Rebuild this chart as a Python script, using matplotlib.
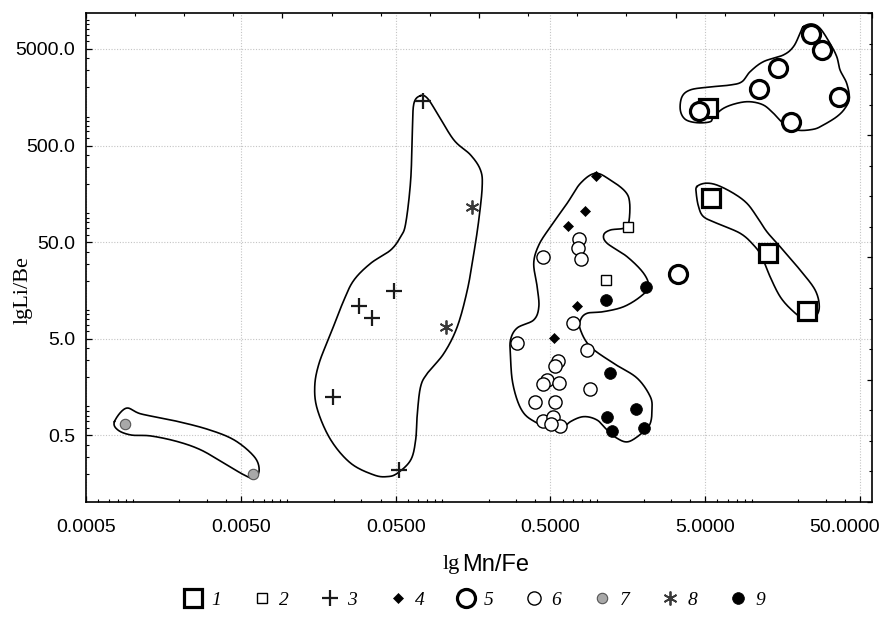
import numpy as np
import matplotlib
matplotlib.use("Agg")
import matplotlib.pyplot as plt
from matplotlib.lines import Line2D
from matplotlib.transforms import ScaledTranslation
from matplotlib.ticker import FixedLocator, LogLocator, NullFormatter, FixedFormatter, MultipleLocator

# --- point data (Mn/Fe, Li/Be) ---
g1_x = [5.25, 5.44, 12.8, 22.7]
g1_y = [1216, 144, 38.4, 9.77]
g2_x = [1.59, 1.14]
g2_y = [72.4, 20.2]
g3_x = [0.075, 0.0488, 0.029, 0.0349, 0.0197, 0.0525]
g3_y = [1448, 15.7, 10.9, 8.27, 1.26, 0.219]
g4_x = [0.986, 0.837, 0.653, 0.739, 0.528]
g4_y = [244, 104, 73, 11.0, 5.13]
g5_x = [24.1, 28.6, 14.7, 11.2, 4.55, 18.0, 36.6, 3.36]
g5_y = [7100, 4884, 3203, 1913, 1149, 871, 1581, 23.3]
g6_x = [0.769, 0.750, 0.784, 0.446, 0.704, 0.302, 0.857, 0.563, 0.536, 0.476,
        0.446, 0.572, 0.896, 0.398, 0.533, 0.449, 0.521, 0.574, 0.505]
g6_y = [54, 43.2, 33.5, 35.1, 7.24, 4.52, 3.80, 2.97, 2.61, 1.89,
        1.70, 1.76, 1.52, 1.10, 1.10, 0.710, 0.781, 0.63, 0.66]
g7_x = [0.000896, 0.00595]
g7_y = [0.656, 0.199]
g8_x = [0.155, 0.105]
g8_y = [116, 6.67]
g9_x = [2.07, 1.15, 1.21, 1.79, 1.16, 1.25, 2.00]
g9_y = [17.3, 12.6, 2.20, 0.945, 0.770, 0.559, 0.592]

# --- field outlines, in lg units ---
outA_lx = [-3.118, -3.043, -2.946, -2.731, -2.516, -2.344, -2.215, -2.183,
           -2.215, -2.280, -2.409, -2.559, -2.709, -2.882, -3.011, -3.096]
outA_ly = [-0.159, -0.020, -0.079, -0.149, -0.238, -0.349, -0.521, -0.659,
           -0.745, -0.711, -0.590, -0.452, -0.366, -0.307, -0.297, -0.245]

outB_lx = [-1.140, -1.096, -1.032, -0.925, -0.817, -0.753, -0.742, -0.764, -0.796,
           -0.838, -0.903, -0.989, -1.096, -1.140, -1.161, -1.172, -1.204, -1.290,
           -1.355, -1.441, -1.591, -1.720, -1.806, -1.824, -1.796, -1.720, -1.635,
           -1.570, -1.462, -1.333, -1.269, -1.236, -1.204, -1.193, -1.183]
outB_ly = [3.216, 3.189, 3.033, 2.757, 2.602, 2.446, 2.274, 1.929, 1.584,
           1.204, 0.824, 0.549, 0.342, 0.203, -0.072, -0.349, -0.556, -0.693,
           -0.728, -0.711, -0.590, -0.349, -0.038, 0.203, 0.445, 0.756, 1.101,
           1.308, 1.481, 1.618, 1.756, 1.895, 2.343, 2.860, 3.137]

outC_lx = [-0.011, 0.086, 0.183, 0.211, 0.204, 0.172, 0.086, 0.043, 0.065, 0.194,
           0.301, 0.333, 0.280, 0.172, 0.043, -0.064, -0.107, -0.107, -0.043, 0.107,
           0.258, 0.344, 0.355, 0.344, 0.301, 0.204, 0.129, 0.065, 0.000, -0.086,
           -0.172, -0.236, -0.314, -0.411, -0.473, -0.516, -0.548, -0.559, -0.559,
           -0.516, -0.409, -0.376, -0.387, -0.409, -0.376, -0.301, -0.193, -0.107]
outC_ly = [2.412, 2.343, 2.222, 2.102, 1.895, 1.843, 1.825, 1.774, 1.688, 1.549,
           1.377, 1.238, 1.135, 1.031, 0.980, 0.963, 0.894, 0.790, 0.617, 0.445,
           0.293, 0.100, -0.038, -0.176, -0.263, -0.366, -0.331, -0.245, -0.142, -0.107,
           -0.159, -0.245, -0.224, -0.152, -0.072, 0.065, 0.272, 0.514, 0.687,
           0.811, 0.894, 1.031, 1.238, 1.481, 1.670, 1.859, 2.102, 2.309]

outD_lx = [1.333, 1.387, 1.441, 1.505, 1.549, 1.570, 1.613, 1.630, 1.602, 1.549,
           1.462, 1.398, 1.291, 1.204, 1.140, 1.075, 0.989, 0.904, 0.817, 0.753,
           0.731, 0.645, 0.570, 0.538, 0.549, 0.602, 0.710, 0.860, 0.936, 0.989,
           1.075, 1.204, 1.269, 1.312]
outD_ly = [3.930, 3.958, 3.913, 3.758, 3.619, 3.482, 3.344, 3.189, 3.085, 2.998,
           2.912, 2.868, 2.860, 2.930, 3.033, 3.119, 3.153, 3.137, 3.085, 2.998,
           2.946, 2.936, 2.971, 3.068, 3.205, 3.275, 3.303, 3.326, 3.360, 3.464,
           3.568, 3.637, 3.723, 3.862]

outE_lx = [0.645, 0.699, 0.774, 0.882, 0.968, 1.033, 1.097, 1.183, 1.312, 1.409,
           1.436, 1.409, 1.333, 1.258, 1.183, 1.118, 1.065, 1.011, 0.925, 0.774,
           0.688, 0.656, 0.641]
outE_ly = [2.274, 2.309, 2.291, 2.205, 2.102, 1.963, 1.808, 1.652, 1.411, 1.204,
           1.031, 0.928, 0.911, 0.997, 1.135, 1.342, 1.549, 1.670, 1.791, 1.895,
           1.963, 2.066, 2.205]

x_ticks = [0.0005, 0.005, 0.05, 0.5, 5, 50]
x_ticklabels = ["0.0005", "0.0050", "0.0500", "0.5000", "5.0000", "50.0000"]
y_ticks = [0.5, 5, 50, 500, 5000]
y_ticklabels = ["0.5", "5.0", "50.0", "500.0", "5000.0"]
legend_labels = ["1", "2", "3", "4", "5", "6", "7", "8", "9"]


def smooth_closed(lx, ly, n=24):
    # closed Catmull-Rom curve through the traced points (in log space)
    p = np.column_stack([lx, ly])
    m = len(p)
    t = np.linspace(0, 1, n, endpoint=False)[:, None]
    segs = []
    for i in range(m):
        p0, p1, p2, p3 = p[i - 1], p[i], p[(i + 1) % m], p[(i + 2) % m]
        segs.append(0.5 * (2 * p1 + (-p0 + p2) * t
                           + (2 * p0 - 5 * p1 + 4 * p2 - p3) * t ** 2
                           + (-p0 + 3 * p1 - 3 * p2 + p3) * t ** 3))
    segs.append(segs[0][:1])
    c = np.vstack(segs)
    return 10 ** c[:, 0], 10 ** c[:, 1]


plt.rcParams["font.family"] = "Liberation Sans"

fig = plt.figure(figsize=(8.92, 6.3), dpi=100)
ax = fig.add_axes([0.0964, 0.2032, 0.8812, 0.7762])
ax.set_xscale("log")
ax.set_yscale("log")
ax.set_xlim(0.000499, 59.8)
ax.set_ylim(0.1022, 11800)

for lx, ly in [(outA_lx, outA_ly), (outB_lx, outB_ly), (outC_lx, outC_ly),
               (outD_lx, outD_ly), (outE_lx, outE_ly)]:
    sx, sy = smooth_closed(lx, ly)
    ax.plot(sx, sy, color="black", lw=1.2, zorder=2)

# series styles
styles = [
    dict(marker="s", ms=13, mfc="white", mec="black", mew=2.3),
    dict(marker="s", ms=7, mfc="white", mec="black", mew=1.0),
    dict(marker="+", ms=11, mec="#1a1a1a", mew=1.6),
    dict(marker="D", ms=5, mfc="black", mec="black", mew=0.5),
    dict(marker="o", ms=13, mfc="white", mec="black", mew=2.3),
    dict(marker="o", ms=9.5, mfc="white", mec="black", mew=1.0),
    dict(marker="o", ms=7.5, mfc="#a8a8a8", mec="#555555", mew=0.8),
    dict(marker=(6, 2, 0), ms=10, mec="#3a3a3a", mew=1.3),
    dict(marker="o", ms=8.5, mfc="black", mec="black", mew=0.5),
]
series = [(g1_x, g1_y), (g2_x, g2_y), (g3_x, g3_y), (g4_x, g4_y), (g5_x, g5_y),
          (g6_x, g6_y), (g7_x, g7_y), (g8_x, g8_y), (g9_x, g9_y)]
for (xs, ys), st in zip(series, styles):
    ax.plot(xs, ys, ls="none", zorder=3, **st)

# axes / ticks
ax.xaxis.set_major_locator(FixedLocator(x_ticks))
ax.xaxis.set_major_formatter(FixedFormatter(x_ticklabels))
ax.xaxis.set_minor_locator(LogLocator(base=10, subs=np.arange(1, 10), numticks=30))
ax.xaxis.set_minor_formatter(NullFormatter())
ax.yaxis.set_major_locator(FixedLocator(y_ticks))
ax.yaxis.set_major_formatter(FixedFormatter(y_ticklabels))
ax.yaxis.set_minor_locator(LogLocator(base=10, subs=np.arange(1, 10), numticks=30))
ax.yaxis.set_minor_formatter(NullFormatter())
ax.tick_params(which="major", direction="in", length=4, width=0.9, labelsize=14, pad=8)
ax.tick_params(which="minor", direction="in", length=2.2, width=0.8)
ax.tick_params(axis="x", pad=12)
ax.grid(True, which="major", ls=(0, (1, 1.5)), color="#c4c4c4", lw=0.8)
ax.set_axisbelow(True)
for sp in ax.spines.values():
    sp.set_linewidth(1.2)

# last x label is pulled in so it stays inside the figure
fig.canvas.draw()
last = ax.get_xticklabels()[-1]
last.set_transform(last.get_transform() + ScaledTranslation(-0.15, 0, fig.dpi_scale_trans))

# evenly spaced ticks on top and right
ax2 = fig.add_axes(ax.get_position(), facecolor="none")
ax2.set_xlim(0, 4)
ax2.set_ylim(0, 4)
ax2.xaxis.tick_top()
ax2.yaxis.tick_right()
ax2.xaxis.set_major_locator(MultipleLocator(1))
ax2.xaxis.set_minor_locator(MultipleLocator(0.25))
ax2.yaxis.set_major_locator(MultipleLocator(1))
ax2.yaxis.set_minor_locator(MultipleLocator(0.25))
ax2.tick_params(which="major", direction="in", length=3.8, width=0.9,
                labeltop=False, labelright=False)
ax2.tick_params(which="minor", direction="in", length=2, width=0.8)
for sp in ax2.spines.values():
    sp.set_visible(False)

# axis labels: "lg" in serif, ratio in sans
fig.text(0.518, 1 - 565 / 630, "Mn/Fe", fontsize=17, ha="left", va="center")
fig.text(0.515, 1 - 565 / 630, "lg", fontsize=16, family="Liberation Serif",
         ha="right", va="center")
fig.text(0.026, 1 - 290 / 630, "lgLi/Be", fontsize=16, family="Liberation Serif",
         rotation=90, ha="center", va="center")

# legend
handles = [Line2D([], [], ls="none", **st) for st in styles]
fig.legend(handles, legend_labels, loc="center", bbox_to_anchor=(0.532, 1 - 600 / 630),
           ncol=9, frameon=False, handlelength=1.0, handletextpad=0.4,
           columnspacing=1.6, borderaxespad=0,
           prop=dict(family="Liberation Serif", style="italic", size=14))

plt.savefig("out.png", dpi=100)
